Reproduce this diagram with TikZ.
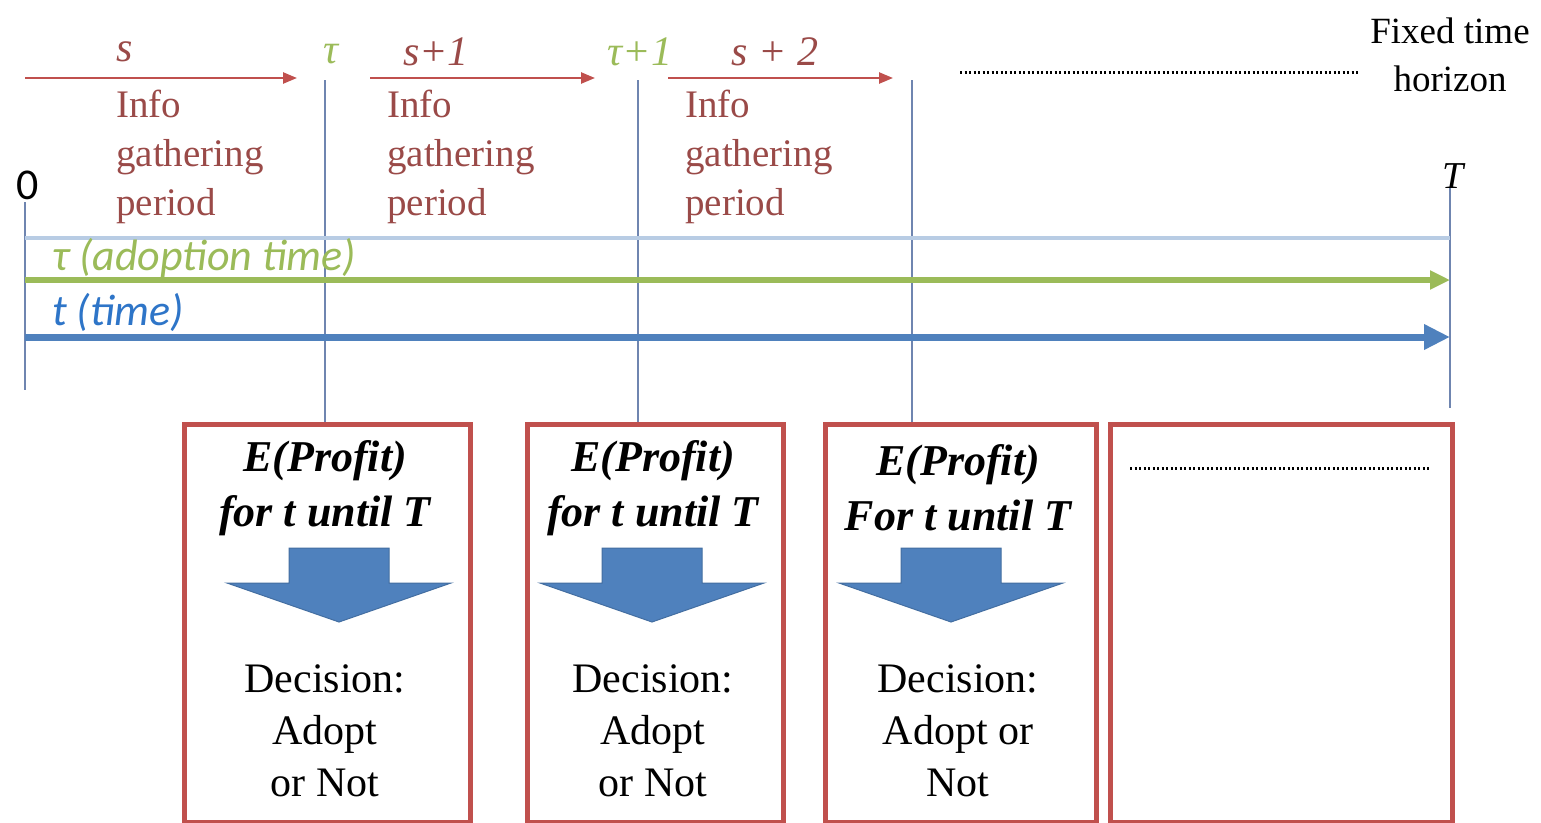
\documentclass[tikz,border=0pt]{standalone}
\usepackage{fontspec}
\setmainfont{Liberation Serif}
\newfontfamily\calfont{Carlito}
\usetikzlibrary{arrows.meta}
\definecolor{offred}{HTML}{C0504D}
\definecolor{infored}{HTML}{9A4A48}
\definecolor{offgreen}{HTML}{9BBB59}
\definecolor{offblue}{HTML}{4F81BD}
\definecolor{tblue}{HTML}{2E75C8}
\definecolor{vline}{HTML}{6F85B0}
\definecolor{hline}{HTML}{B8CCE4}
\begin{document}
\begin{tikzpicture}[x=1pt,y=-1pt,
  lab/.style={inner sep=0pt, font=\fontsize{42}{50}\selectfont\itshape},
  info/.style={inner sep=0pt, anchor=north west, align=left, text=infored, font=\fontsize{39}{49}\selectfont},
  redarrow/.style={draw=offred, line width=2.5pt, -{Triangle[length=14pt,width=11pt]}},
  vl/.style={draw=vline, line width=1.3pt},
  box/.style={draw=offred, line width=4.5pt, inner sep=0pt, anchor=north west, fill=none},
  ptxt/.style={inner sep=0pt, align=center, font=\fontsize{44}{55}\selectfont\bfseries\itshape},
  dtxt/.style={inner sep=0pt, align=center, font=\fontsize{42}{52}\selectfont},
  dotline/.style={line width=3pt, dash pattern=on 2pt off 2.5pt},
  blockarrow/.pic={\path[fill=offblue, draw=offblue!85!black, line width=1pt]
      (-50,0) -- (50,0) -- (50,35) -- (112,35) -- (0,74) -- (-112,35) -- (-50,35) -- cycle;}
]
\useasboundingbox[fill=white] (0,0) rectangle (1541,822);

% top labels
\node[lab, text=infored] (s0) at (125,52) {s};
\node[lab, text=offgreen] (tau0) at (331,54) {τ};
\node[lab, text=infored] (s1) at (436,52) {s+1};
\node[lab, text=offgreen] (tau1) at (640,52) {τ+1};
\node[lab, text=infored] (s2) at (775,52) {s + 2};

% red arrows
\coordinate (a1s) at (25,78); \coordinate (a1e) at (297,78);
\coordinate (a2s) at (370,78); \coordinate (a2e) at (595,78);
\coordinate (a3s) at (668,78); \coordinate (a3e) at (893,78);
\draw[redarrow] (a1s) -- (a1e);
\draw[redarrow] (a2s) -- (a2e);
\draw[redarrow] (a3s) -- (a3e);

% info texts
\node[info] (i1) at (116,90) {Info\\gathering\\period};
\node[info] (i2) at (387,90) {Info\\gathering\\period};
\node[info] (i3) at (685,90) {Info\\gathering\\period};

% dotted line and horizon
\coordinate (d1s) at (960,72); \coordinate (d1e) at (1360,72);
\draw[dotline] (d1s) -- (d1e);
\node[inner sep=0pt, align=center, font=\fontsize{37}{48}\selectfont] (fth) at (1450,55) {Fixed time\\horizon};

% 0 and T
\node[inner sep=0pt, font=\calfont\fontsize{44}{48}\selectfont] (zero) at (28,185) {0};
\node[lab, font=\fontsize{38}{40}\selectfont\itshape] (Tl) at (1453,176) {T};

% boxes
\node[box, minimum width=286pt, minimum height=398pt] (b1) at (182,422) {};
\node[box, minimum width=256pt, minimum height=398pt] (b2) at (525,422) {};
\node[box, minimum width=271pt, minimum height=398pt] (b3) at (823,422) {};
\node[box, minimum width=342pt, minimum height=398pt] (b4) at (1108,422) {};

% vertical lines
\coordinate (v0t) at (25,202); \coordinate (v0b) at (25,390);
\coordinate (v1t) at (325,80);
\coordinate (v2t) at (638,80);
\coordinate (v3t) at (912,80);
\coordinate (v4t) at (1450,188); \coordinate (v4b) at (1450,408);
\draw[vl] (v0t) -- (v0b);
\draw[vl] (v1t) -- (v1t |- b1.north);
\draw[vl] (v2t) -- (v2t |- b2.north);
\draw[vl] (v3t) -- (v3t |- b3.north);
\draw[vl] (v4t) -- (v4b);

% horizontal lines
\coordinate (h0s) at (25,238); \coordinate (h0e) at (1450,238);
\draw[draw=hline, line width=3.5pt] (h0s) -- (h0e);
\coordinate (gs) at (25,280); \coordinate (ge) at (1450,280);
\draw[draw=offgreen, line width=6pt, -{Triangle[length=20pt,width=18pt]}] (gs) -- (ge);
\coordinate (bs) at (25,337); \coordinate (be) at (1450,337);
\draw[draw=offblue, line width=7pt, -{Triangle[length=26pt,width=24pt]}] (bs) -- (be);
\node[inner sep=0pt, anchor=west, text=offgreen, font=\calfont\fontsize{44}{48}\selectfont\itshape] (adl) at (52,258) {τ (adoption time)};
\node[inner sep=0pt, anchor=west, text=tblue, font=\calfont\fontsize{44}{48}\selectfont\itshape] (tl) at (52,312) {t (time)};

% box contents
\node[ptxt] (p1) at (325,488) {E(Profit)\\for t until T};
\node[ptxt] (p2) at (653,488) {E(Profit)\\for t until T};
\node[ptxt] (p3) at (958,488) {E(Profit)\\For t until T};
\pic at (339,548) {blockarrow};
\pic at (652,548) {blockarrow};
\pic at (951,548) {blockarrow};
\node[dtxt] (dc1) at (325,731) {Decision:\\Adopt\\or Not};
\node[dtxt] (dc2) at (653,731) {Decision:\\Adopt\\or Not};
\node[dtxt] (dc3) at (958,731) {Decision:\\Adopt or\\Not};
\coordinate (d4s) at (1130,468); \coordinate (d4e) at (1430,468);
\draw[dotline] (d4s) -- (d4e);
\end{tikzpicture}
\end{document}
